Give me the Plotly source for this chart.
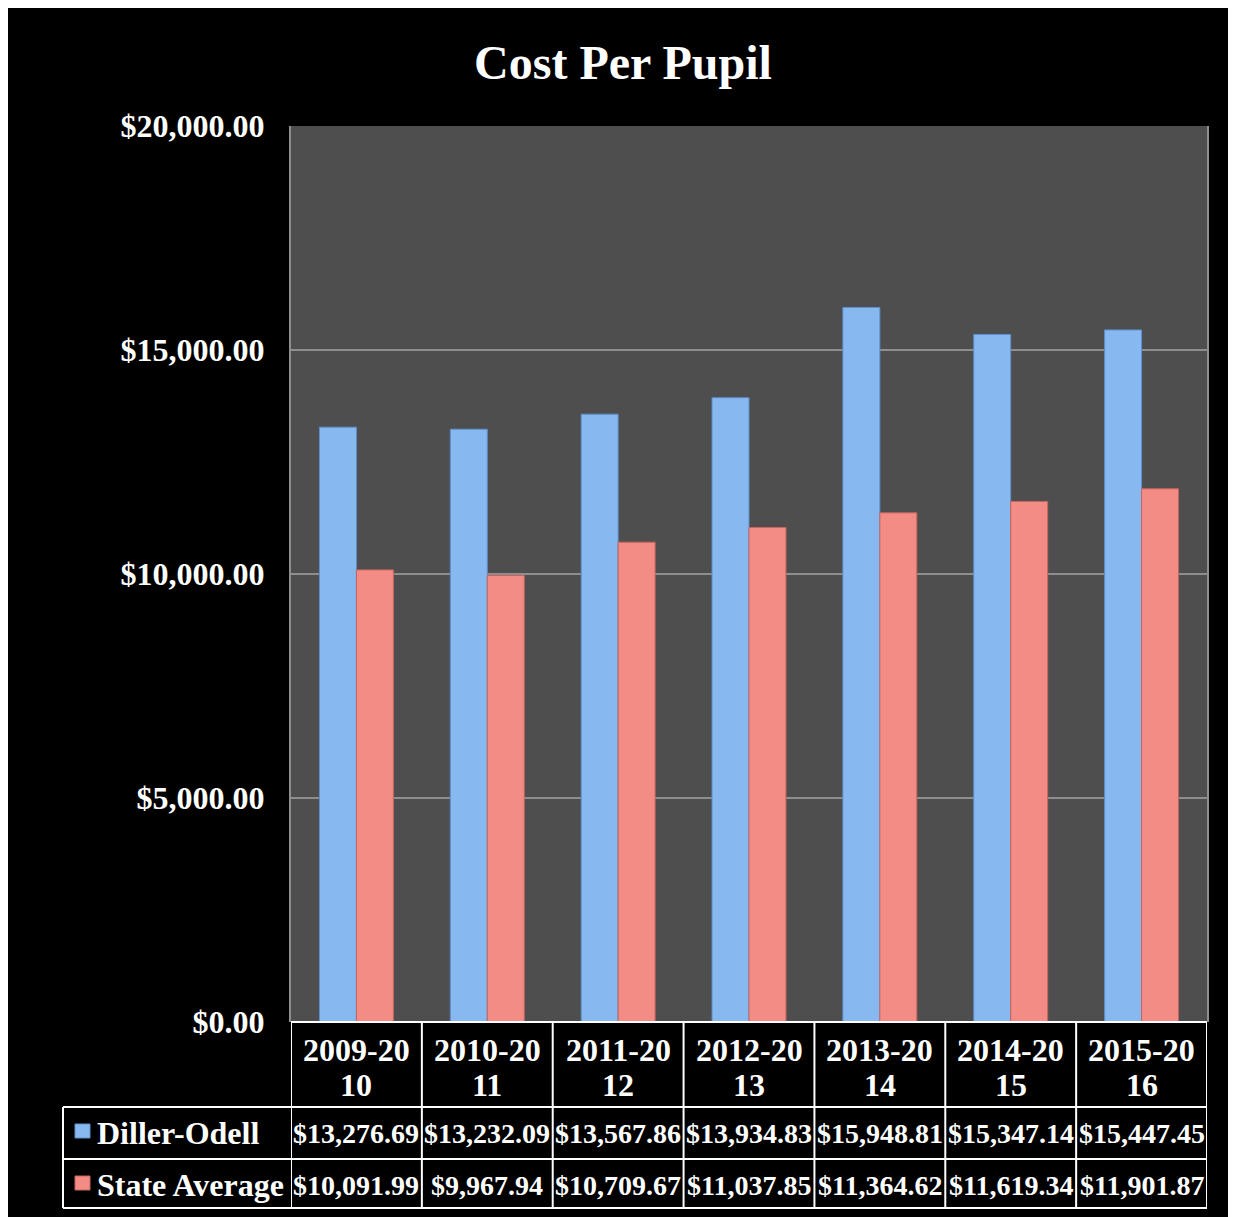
import plotly.graph_objects as go

categories = ["2009-2010", "2010-2011", "2011-2012", "2012-2013", "2013-2014", "2014-2015", "2015-2016"]
tick_top = ["2009-20", "2010-20", "2011-20", "2012-20", "2013-20", "2014-20", "2015-20"]
tick_bottom = ["10", "11", "12", "13", "14", "15", "16"]
diller_odell = [13276.69, 13232.09, 13567.86, 13934.83, 15948.81, 15347.14, 15447.45]
state_average = [10091.99, 9967.94, 10709.67, 11037.85, 11364.62, 11619.34, 11901.87]
series_names = ["Diller-Odell", "State Average"]
y_ticks = [0, 5000, 10000, 15000, 20000]

OFF = 8  # page margin added by the browser
W, H = 1236 - OFF, 1217 - OFF
L, R, T, B = 291 - OFF, 1207 - OFF, 126 - OFF, 1022 - OFF  # plot area in figure px
FONT = "Liberation Serif, Times New Roman, serif"
FS = 32
FS_VAL = 28
BLUE = "#88b8f0"
RED = "#f28c85"


def px_x(p):  # reference-screen px -> paper
    return (p - OFF - L) / (R - L)


def px_y(p):
    return (B - (p - OFF)) / (B - T)


fig = go.Figure()
fig.add_trace(go.Bar(x=categories, y=diller_odell, name=series_names[0],
                     marker=dict(color=BLUE, line=dict(color="#5d8fcc", width=1))))
fig.add_trace(go.Bar(x=categories, y=state_average, name=series_names[1],
                     marker=dict(color=RED, line=dict(color="#c8645e", width=1))))

shapes = []
annotations = []
white = dict(color="white", width=2)
n = len(categories)
row1_top, row_mid, row_bot = 1107, 1159, 1208
for i in range(n + 1):
    shapes.append(dict(type="line", xref="x", yref="paper", x0=i - 0.5, x1=i - 0.5,
                       y0=0, y1=px_y(row_bot), line=white))
for i in range(n):
    for txt, yy in ((tick_top[i], 1050), (tick_bottom[i], 1085)):
        annotations.append(dict(xref="x", yref="paper", x=i, y=px_y(yy), text=f"<b>{txt}</b>",
                                showarrow=False, xanchor="center", yanchor="middle",
                                font=dict(family=FONT, size=FS, color="white")))
for yy in (row1_top, row_mid, row_bot):
    shapes.append(dict(type="line", xref="paper", yref="paper", x0=px_x(63), x1=1,
                       y0=px_y(yy), y1=px_y(yy), line=white))
shapes.append(dict(type="line", xref="paper", yref="paper", x0=0, x1=1,
                   y0=0, y1=0, line=white))
shapes.append(dict(type="line", xref="paper", yref="paper", x0=px_x(63), x1=px_x(63),
                   y0=px_y(row1_top), y1=px_y(row_bot), line=white))

rows = [(series_names[0], diller_odell, BLUE, "#5d8fcc", 1133),
        (series_names[1], state_average, RED, "#c8645e", 1185)]
for name, vals, col, lcol, yc in rows:
    shapes.append(dict(type="rect", xref="paper", yref="paper",
                       x0=px_x(75), x1=px_x(90), y0=px_y(yc - 9), y1=px_y(yc + 5),
                       fillcolor=col, line=dict(color=lcol, width=1)))
    annotations.append(dict(xref="paper", yref="paper", x=px_x(95), y=px_y(yc),
                            text=f"<b>{name}</b>", showarrow=False, xanchor="left",
                            yanchor="middle", font=dict(family=FONT, size=FS, color="white")))
    for i, v in enumerate(vals):
        annotations.append(dict(xref="x", yref="paper", x=i, y=px_y(yc),
                                text=f"<b>${v:,.2f}</b>", showarrow=False, xanchor="center",
                                yanchor="middle",
                                font=dict(family=FONT, size=FS_VAL, color="white")))

fig.update_layout(
    width=W, height=H,
    margin=dict(l=L, r=W - R, t=T, b=H - B, pad=0),
    paper_bgcolor="black", plot_bgcolor="#4e4e4e",
    barmode="group", bargap=0.435, bargroupgap=0,
    showlegend=False,
    title=dict(text="<b>Cost Per Pupil</b>", x=(623 - OFF) / W, xref="container",
               xanchor="center", y=1 - (62 - OFF) / H, yref="container", yanchor="middle",
               font=dict(family=FONT, size=48, color="white")),
    xaxis=dict(range=[-0.5, n - 0.5], autorange=False, showticklabels=False,
               showgrid=False, zeroline=False, showline=False, ticks=""),
    yaxis=dict(range=[0, 20000], tickvals=y_ticks, tickformat="$,.2f",
               showgrid=True, gridcolor="#8e8e8e", gridwidth=1.5, zeroline=False,
               showline=True, linecolor="#8e8e8e", linewidth=2, mirror=True,
               ticks="", ticklabelstandoff=18,
               tickfont=dict(family=FONT, size=FS, color="white", weight="bold")),
    shapes=shapes, annotations=annotations,
)
fig.write_html("out.html")
